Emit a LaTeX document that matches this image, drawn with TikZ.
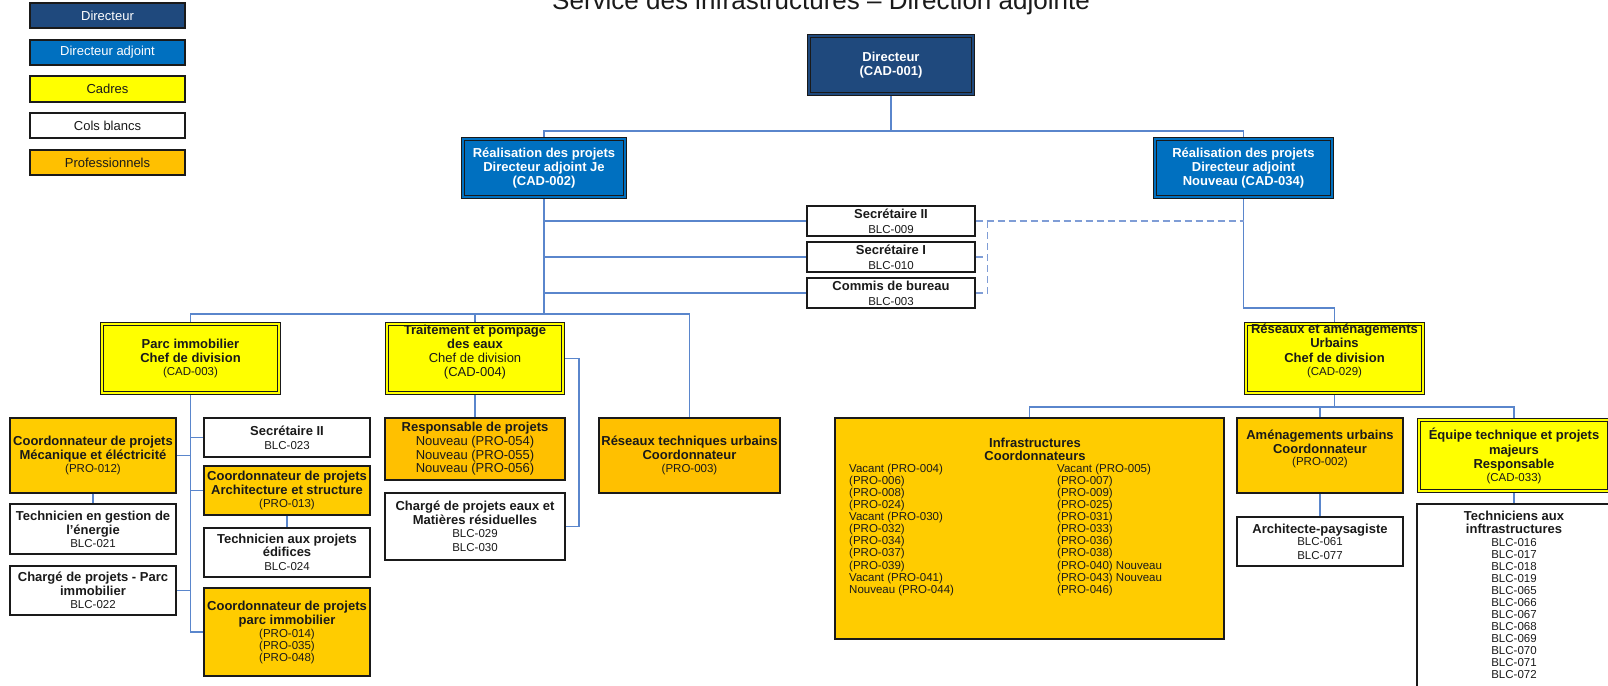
\documentclass[tikz,border=0pt]{standalone}
\usepackage{fontspec}
\setmainfont{Liberation Sans}
\definecolor{navy}{HTML}{1F497D}
\definecolor{adj}{HTML}{0070C0}
\definecolor{cad}{HTML}{FFFF00}
\definecolor{proA}{HTML}{FFC000}
\definecolor{proB}{HTML}{FFCC00}
\definecolor{conn}{HTML}{5A86CC}
\definecolor{dconn}{HTML}{7F9DD6}
\definecolor{ink}{HTML}{1A1A1A}
\newcommand\rf{\fontsize{11.5}{12}\selectfont\lineskiplimit=-50pt\relax\lineskip=0pt\relax}
\newcommand\lf{\fontsize{11.5}{12.1}\selectfont\lineskiplimit=-50pt\relax\lineskip=0pt\relax}
\newcommand\B[1]{{\fontsize{13}{12}\selectfont\bfseries #1}}
\newcommand\R[1]{{\fontsize{13}{12}\selectfont #1}}
\newcommand\bx[7]{\node[#2, minimum width={(#5)-(#3)}, minimum height={(#6)-(#4)}] (#1) at ({((#3)+(#5))/2},{((#4)+(#6))/2}) {#7};}
\newcommand\dbx[7]{\node[#2, minimum width={(#5)-(#3)-4.4}, minimum height={(#6)-(#4)-4.4}] (#1) at ({((#3)+(#5))/2},{((#4)+(#6))/2}) {#7};}
\tikzset{
  sbox/.style={draw=ink, line width=1.2pt, rectangle, inner sep=0pt, align=center, font=\rf, text=ink},
  whitebox/.style={sbox, fill=white},
  proAbox/.style={sbox, fill=proA},
  proBbox/.style={sbox, fill=proB},
  dblbox/.style={draw=ink, line width=1.1pt, double distance=2.2pt, rectangle, inner sep=0pt, outer sep=2.2pt, align=center, font=\rf},
  navybox/.style={dblbox, fill=navy, double=navy, text=white},
  adjbox/.style={dblbox, fill=adj, double=adj, text=white},
  cadbox/.style={dblbox, fill=cad, double=cad, text=ink},
  legbox/.style={draw=ink, line width=1.5pt, rectangle, inner sep=0pt, font=\fontsize{13}{14}\selectfont},
  txt/.style={inner sep=0pt, align=center, font=\rf, text=ink},
  coltxt/.style={anchor=north west, align=left, inner sep=0pt, font=\lf, text=ink},
  conline/.style={draw=conn, line width=1.2pt},
  dashline/.style={draw=dconn, line width=1.6pt, dash pattern=on 7pt off 4pt}
}
\begin{document}
\begin{tikzpicture}[x=1pt, y=-1pt]
\useasboundingbox (0,0) rectangle (1608,685);
\clip (0,0) rectangle (1608,685);
\fill[white] (0,0) rectangle (1608,685);

% title
\node[anchor=base west, inner sep=0pt, font=\fontsize{26}{30}\selectfont, text=ink] (title) at (552,10) {Service des infrastructures – Direction adjointe};

% legend
\bx{leg1}{legbox, fill=navy, text=white}{30}{3}{185}{28}{Directeur}
\bx{leg2}{legbox, fill=adj, text=white}{30}{40}{185}{65}{Directeur adjoint}
\bx{leg3}{legbox, fill=cad, text=ink}{30}{76}{185}{102}{Cadres}
\bx{leg4}{legbox, fill=white, text=ink}{30}{113}{185}{138}{Cols blancs}
\bx{leg5}{legbox, fill=proA, text=ink}{30}{150}{185}{175}{Professionnels}

% top level
\dbx{dir}{navybox}{807}{34}{975}{96}{\B{Directeur}\\[2pt]\B{(CAD-001)}}
\dbx{cad002}{adjbox}{461}{137}{627}{199}{\B{Réalisation des projets}\\[2pt]\B{Directeur adjoint Je}\\[2pt]\B{(CAD-002)}}
\dbx{cad034}{adjbox}{1153}{137}{1334}{199}{\B{Réalisation des projets}\\[2pt]\B{Directeur adjoint}\\[2pt]\B{Nouveau (CAD-034)}}

% secretaries
\bx{sec2}{whitebox}{807}{206}{975}{236}{\B{Secrétaire II}\\[3pt]BLC-009}
\bx{sec1}{whitebox}{807}{242}{975}{272}{\B{Secrétaire I}\\[3pt]BLC-010}
\bx{commis}{whitebox}{807}{278}{975}{308}{\B{Commis de bureau}\\[3pt]BLC-003}

% divisions
\dbx{cad003}{cadbox}{100}{322}{281}{395}{\B{Parc immobilier}\\[2pt]\B{Chef de division}\\[1pt](CAD-003)}
\dbx{cad004}{cadbox}{385}{322}{565}{395}{}
\node[txt] (cad004t) at (475,351.8) {\B{Traitement et pompage}\\[2pt]\B{des eaux}\\[2pt]\R{Chef de division}\\[2pt]\R{(CAD-004)}};
\bx{pro003}{proAbox}{599}{418}{780}{493}{\B{Réseaux techniques urbains}\\[2pt]\B{Coordonnateur}\\[1pt](PRO-003)}
\dbx{cad029}{cadbox}{1244}{322}{1425}{395}{}
\node[txt] (cad029t) at (1334.5,351.3) {\B{Réseaux et aménagements}\\[2pt]\B{Urbains}\\[3pt]\B{Chef de division}\\[1pt](CAD-029)};

% Parc immobilier branch
\bx{pro012}{proBbox}{10}{418}{176}{493}{\B{Coordonnateur de projets}\\[2pt]\B{Mécanique et éléctricité}\\[1pt](PRO-012)}
\bx{blc021}{whitebox}{10}{504}{176}{554}{\B{Technicien en gestion de}\\[2pt]\B{l’énergie}\\[1pt]BLC-021}
\bx{blc022}{whitebox}{10}{566}{176}{615}{\B{Chargé de projets - Parc}\\[2pt]\B{immobilier}\\[1pt]BLC-022}
\bx{blc023}{whitebox}{204}{418}{370}{457}{\B{Secrétaire II}\\[2pt]BLC-023}
\bx{pro013}{proBbox}{204}{466}{370}{515}{\B{Coordonnateur de projets}\\[2pt]\B{Architecture et structure}\\[1pt](PRO-013)}
\bx{blc024}{whitebox}{204}{528}{370}{577}{\B{Technicien aux projets}\\[1pt]\B{édifices}\\[2pt]BLC-024}
\bx{pro014}{proBbox}{204}{588}{370}{676}{\B{Coordonnateur de projets}\\[2pt]\B{parc immobilier}\\[1pt](PRO-014)\\(PRO-035)\\(PRO-048)}

% Traitement branch
\bx{resp}{proAbox}{385}{418}{565}{480}{\B{Responsable de projets}\\[2pt]\R{Nouveau (PRO-054)}\\[2pt]\R{Nouveau (PRO-055)}\\[1pt]\R{Nouveau (PRO-056)}}
\bx{eaux}{whitebox}{385}{493}{565}{560}{\B{Chargé de projets eaux et}\\[2pt]\B{Matières résiduelles}\\[1pt]BLC-029\\[2pt]BLC-030}

% Reseaux branch
\bx{infra}{proBbox}{835}{418}{1224}{639}{}
\node[txt] (infrat) at (1035,449.6) {\B{Infrastructures}\\[1pt]\B{Coordonnateurs}};
\node[coltxt] (infL) at (849,463.7) {Vacant (PRO-004)\\(PRO-006)\\(PRO-008)\\(PRO-024)\\Vacant (PRO-030)\\(PRO-032)\\(PRO-034)\\(PRO-037)\\(PRO-039)\\Vacant (PRO-041)\\Nouveau (PRO-044)};
\node[coltxt] (infR) at (1057,463.7) {Vacant (PRO-005)\\(PRO-007)\\(PRO-009)\\(PRO-025)\\(PRO-031)\\(PRO-033)\\(PRO-036)\\(PRO-038)\\(PRO-040) Nouveau\\(PRO-043) Nouveau\\(PRO-046)};
\bx{pro002}{proBbox}{1237}{418}{1403}{493}{}
\node[txt] (pro002t) at (1320,448.6) {\B{Aménagements urbains}\\[2pt]\B{Coordonnateur}\\(PRO-002)};
\bx{archi}{whitebox}{1237}{517}{1403}{566}{\B{Architecte-paysagiste}\\BLC-061\\[2pt]BLC-077}
\dbx{cad033}{cadbox}{1417}{418}{1611}{493}{\B{Équipe technique et projets}\\[3pt]\B{majeurs}\\[2pt]\B{Responsable}\\[1pt](CAD-033)}
\bx{tech}{whitebox}{1417}{504}{1611}{700}{}
\node[txt, anchor=north] (techt) at (1514,511.1) {\B{Techniciens aux}\\[1pt]\B{inftrastructures}\\[1pt]BLC-016\\BLC-017\\BLC-018\\BLC-019\\BLC-065\\BLC-066\\BLC-067\\BLC-068\\BLC-069\\BLC-070\\BLC-071\\BLC-072};

% buses
\coordinate (busA) at (0,131);
\coordinate (busB) at (0,314);
\coordinate (busC) at (0,308);
\coordinate (busD) at (0,407);

% connectors
\draw[conline] (dir.south) -- (dir.south |- busA);
\draw[conline] (cad002.north) -- (cad002.north |- busA) -- (cad034.north |- busA) -- (cad034.north);
\draw[conline] (cad002.south) -- (cad002.south |- busB);
\draw[conline] (cad002.south |- sec2.west) -- (sec2.west);
\draw[conline] (cad002.south |- sec1.west) -- (sec1.west);
\draw[conline] (cad002.south |- commis.west) -- (commis.west);
\draw[conline] (cad003.north) -- (cad003.north |- busB) -- (pro003.north |- busB) -- (pro003.north);
\draw[conline] (cad004.north) -- (cad004.north |- busB);

\draw[conline] (cad003.south) -- (cad003.south |- pro014.west) -- (pro014.west);
\draw[conline] (cad003.south |- pro012.east) -- (pro012.east);
\draw[conline] (cad003.south |- blc022.east) -- (blc022.east);
\draw[conline] (cad003.south |- blc023.west) -- (blc023.west);
\draw[conline] (cad003.south |- pro013.west) -- (pro013.west);
\draw[conline] (pro012.south) -- (blc021.north);
\draw[conline] (pro013.south) -- (blc024.north);

\draw[conline] (cad004.south) -- (resp.north);
\draw[conline] (cad004.east) -- ++(14,0) |- (eaux.east);

\draw[conline] (cad034.south) -- (cad034.south |- busC) -- (cad029.north |- busC) -- (cad029.north);
\draw[conline] (cad029.south) -- (cad029.south |- busD);
\draw[conline] (infra.north) -- (infra.north |- busD) -- (cad033.north |- busD) -- (cad033.north);
\draw[conline] (pro002.north) -- (pro002.north |- busD);
\draw[conline] (pro002.south) -- (archi.north);
\draw[conline] (cad033.south) -- (tech.north);

% dashed links
\draw[dashline] (sec2.east) -- (cad034.south |- sec2.east);
\draw[dashline] (sec2.east) ++(12,0) |- (commis.east);
\draw[dashline] (sec1.east) -- ++(12,0);
\end{tikzpicture}
\end{document}
